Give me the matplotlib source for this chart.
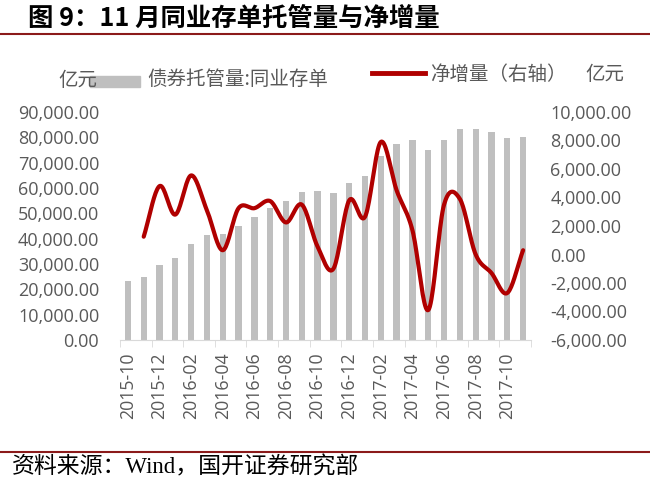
import numpy as np
import matplotlib.pyplot as plt
from matplotlib.patches import Rectangle
from matplotlib.lines import Line2D

plt.rcParams['font.family'] = ['Open Sans', 'Noto Sans CJK SC', 'DejaVu Sans']

# months 2015-10 .. 2017-11
months = ['2015-10', '2015-11', '2015-12', '2016-01', '2016-02', '2016-03', '2016-04',
          '2016-05', '2016-06', '2016-07', '2016-08', '2016-09', '2016-10', '2016-11',
          '2016-12', '2017-01', '2017-02', '2017-03', '2017-04', '2017-05', '2017-06',
          '2017-07', '2017-08', '2017-09', '2017-10', '2017-11']

# 债券托管量:同业存单 (亿元)
custody = [23300, 24750, 29600, 32400, 38000, 41450, 41850, 45100, 48550, 52250,
           54900, 58400, 58800, 58000, 61850, 64750, 72800, 77500, 79000, 75150,
           79000, 83200, 83450, 82250, 79750, 80000]

# 净增量 (亿元, 右轴), from 2015-11
net_months = months[1:]
net_increase = [1250, 4800, 2800, 5550, 3100, 300, 3250, 3250, 3750, 2250, 3500,
                550, -1000, 3800, 2650, 7900, 4500, 1700, -3900, 3500, 3900, 0,
                -1300, -2700, 300]


def smooth(x, y, n=20):
    # Catmull-Rom curve through the points, like Excel's smoothed line
    x = np.asarray(x, float)
    y = np.asarray(y, float)
    px = np.concatenate([[2 * x[0] - x[1]], x, [2 * x[-1] - x[-2]]])
    py = np.concatenate([[2 * y[0] - y[1]], y, [2 * y[-1] - y[-2]]])
    xs, ys = [], []
    t = np.linspace(0, 1, n, endpoint=False)
    for i in range(1, len(px) - 2):
        for p, out in ((px, xs), (py, ys)):
            p0, p1, p2, p3 = p[i - 1], p[i], p[i + 1], p[i + 2]
            out.extend(0.5 * (2 * p1 + (-p0 + p2) * t
                              + (2 * p0 - 5 * p1 + 4 * p2 - p3) * t ** 2
                              + (-p0 + 3 * p1 - 3 * p2 + p3) * t ** 3))
    xs.append(x[-1])
    ys.append(y[-1])
    return np.array(xs), np.array(ys)


gray_txt = '#595959'
dark_red = '#8B1A1A'
line_red = '#B00000'
cjk = ['Noto Sans CJK SC', 'DejaVu Sans']

fig = plt.figure(figsize=(6.5, 4.79), dpi=100)
ax = fig.add_axes([120 / 650, 1 - 340 / 479, 411 / 650, 228 / 479])
ax2 = ax.twinx()

x = np.arange(len(months))
ax.bar(x, custody, width=0.4, color='#BFBFBF', zorder=1)
ax.set_xlim(-0.5, len(months) - 0.5)
ax.set_ylim(0, 90000)
ax.set_yticks(np.arange(0, 90001, 10000))
ax.set_yticklabels([f'{v:,.2f}' for v in np.arange(0, 90001, 10000)])

xn = np.arange(1, len(months))
sx, sy = smooth(xn, net_increase)
ax2.plot(sx, sy, color=line_red, lw=3, solid_capstyle='round', zorder=3)
ax2.set_ylim(-6000, 10000)
ax2.set_yticks(np.arange(-6000, 10001, 2000))
ax2.set_yticklabels([f'{v:,.2f}' for v in np.arange(-6000, 10001, 2000)])

# x ticks: labels every 2 months, tick marks between categories
ax.set_xticks(x[::2])
ax.set_xticklabels(months[::2], rotation=90)
ax.set_xticks(np.arange(-0.5, len(months), 2), minor=True)
ax.tick_params(axis='x', which='major', length=0, pad=9, labelsize=12.8, labelcolor=gray_txt)
ax.tick_params(axis='x', which='minor', length=5, color='#D9D9D9', direction='out')
ax.tick_params(axis='y', length=0, pad=15, labelsize=13, labelcolor=gray_txt)
ax2.tick_params(axis='y', length=0, pad=14, labelsize=13, labelcolor=gray_txt)

for a in (ax, ax2):
    for s in ('top', 'left', 'right'):
        a.spines[s].set_visible(False)
ax.spines['bottom'].set_color('#D9D9D9')
ax2.spines['bottom'].set_visible(False)

# title and rules
fig.text(28 / 650, 1 - 18 / 479, '图 9：11 月同业存单托管量与净增量', fontsize=18.3,
         fontweight='bold', va='center', ha='left', color='black', family=cjk)
fig.add_artist(Line2D([0, 1], [1 - 34 / 479, 1 - 34 / 479], color=dark_red, lw=1.5))
fig.add_artist(Line2D([0, 1], [1 - 452 / 479, 1 - 452 / 479], color=dark_red, lw=1.5))
fig.text(12 / 650, 1 - 467 / 479, '资料来源：Wind，国开证券研究部', fontsize=16.5,
         va='center', ha='left', color='black',
         family=['Liberation Serif', 'Noto Sans CJK SC'])

# legend and units
fig.text(58 / 650, 1 - 81 / 479, '亿元', fontsize=14, color=gray_txt, va='center',
         family=cjk)
fig.add_artist(Rectangle((90 / 650, 1 - 87 / 479), 50 / 650, 11 / 479,
                         color='#BFBFBF', transform=fig.transFigure))
fig.text(147 / 650, 1 - 79 / 479, '债券托管量:同业存单', fontsize=14, color=gray_txt,
         va='center', family=cjk)
fig.add_artist(Line2D([372 / 650, 425 / 650], [1 - 73 / 479, 1 - 73 / 479],
                      color=line_red, lw=3.5))
fig.text(430 / 650, 1 - 74 / 479, '净增量（右轴）', fontsize=14, color=gray_txt,
         va='center', family=cjk)
fig.text(585 / 650, 1 - 74 / 479, '亿元', fontsize=14, color=gray_txt, va='center',
         family=cjk)

fig.savefig('out.png', dpi=100)
